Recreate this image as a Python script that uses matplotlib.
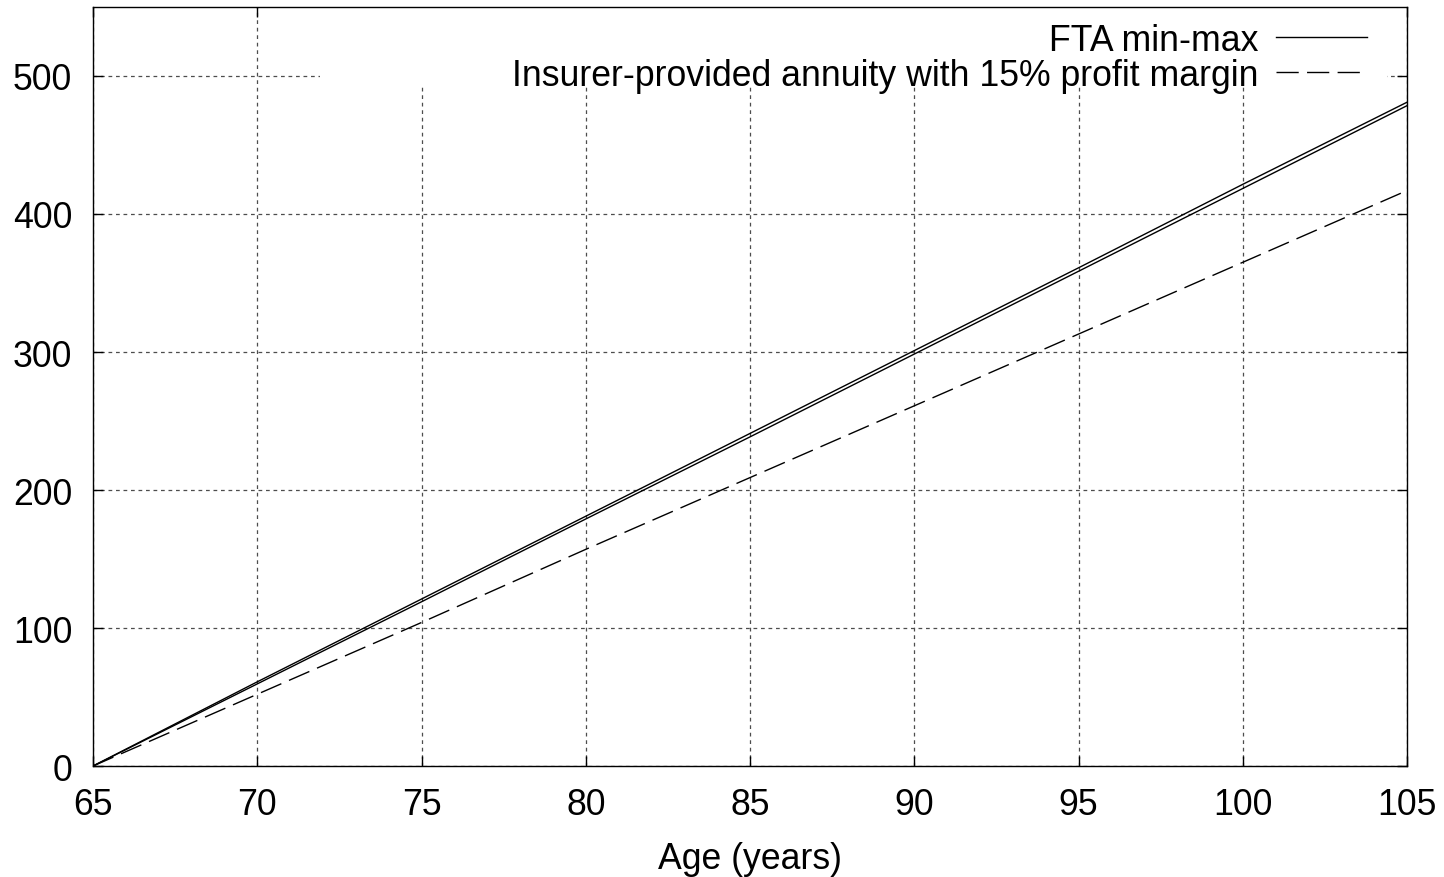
import matplotlib
matplotlib.use("Agg")
import matplotlib.pyplot as plt
from matplotlib.patches import Rectangle

plt.rcParams['font.family'] = ['Liberation Sans', 'DejaVu Sans']

# Age in years and cumulative values
ages = [65, 70, 75, 80, 85, 90, 95, 100, 105]
fta_max = [0, 61, 121, 181, 241, 301, 361, 421.5, 481]
fta_min = [0, 59.5, 119, 179, 238.5, 298.5, 358.5, 418.5, 478.5]
insurer = [0, 52, 104, 157, 209, 261, 313, 365, 417]

x_ticks = [65, 70, 75, 80, 85, 90, 95, 100, 105]
y_ticks = [0, 100, 200, 300, 400, 500]

FS = 25.7

fig = plt.figure(figsize=(14.44, 8.78), dpi=100)
ax = fig.add_axes([0.0644, 0.1264, 0.91, 0.8645])

ax.plot(ages, fta_max, color='black', lw=1.0, label='FTA min-max', zorder=3)
ax.plot(ages, fta_min, color='black', lw=1.0, zorder=3)
ax.plot(ages, insurer, color='black', lw=1.0, dashes=(16, 6),
        label='Insurer-provided annuity with 15% profit margin', zorder=3)

ax.set_xlim(65, 105)
ax.set_ylim(0, 550)
ax.set_xticks(x_ticks)
ax.set_yticks(y_ticks)
ax.set_axisbelow(True)
ax.grid(True, color='0.3', lw=0.9, linestyle=(0, (3, 3)))
ax.tick_params(direction='in', length=7, width=1, top=True, right=True,
               labelsize=FS)
ax.tick_params(axis='y', pad=15)
ax.tick_params(axis='x', pad=15)
for s in ax.spines.values():
    s.set_linewidth(1.0)

ax.set_xlabel('Age (years)', fontsize=FS, labelpad=14)

# white key box that hides the grid behind the legend, like gnuplot
ax.add_patch(Rectangle((0.1728, 0.8946), 0.812, 0.1054, transform=ax.transAxes,
                       facecolor='white', edgecolor='none', zorder=1))

leg = ax.legend(loc='upper right', bbox_to_anchor=(0.9696, 0.979),
                markerfirst=False, frameon=False, fontsize=FS,
                handlelength=2.55, handletextpad=0.5, labelspacing=0.0,
                borderaxespad=0, borderpad=0)

fig.savefig('out.png', dpi=100)
